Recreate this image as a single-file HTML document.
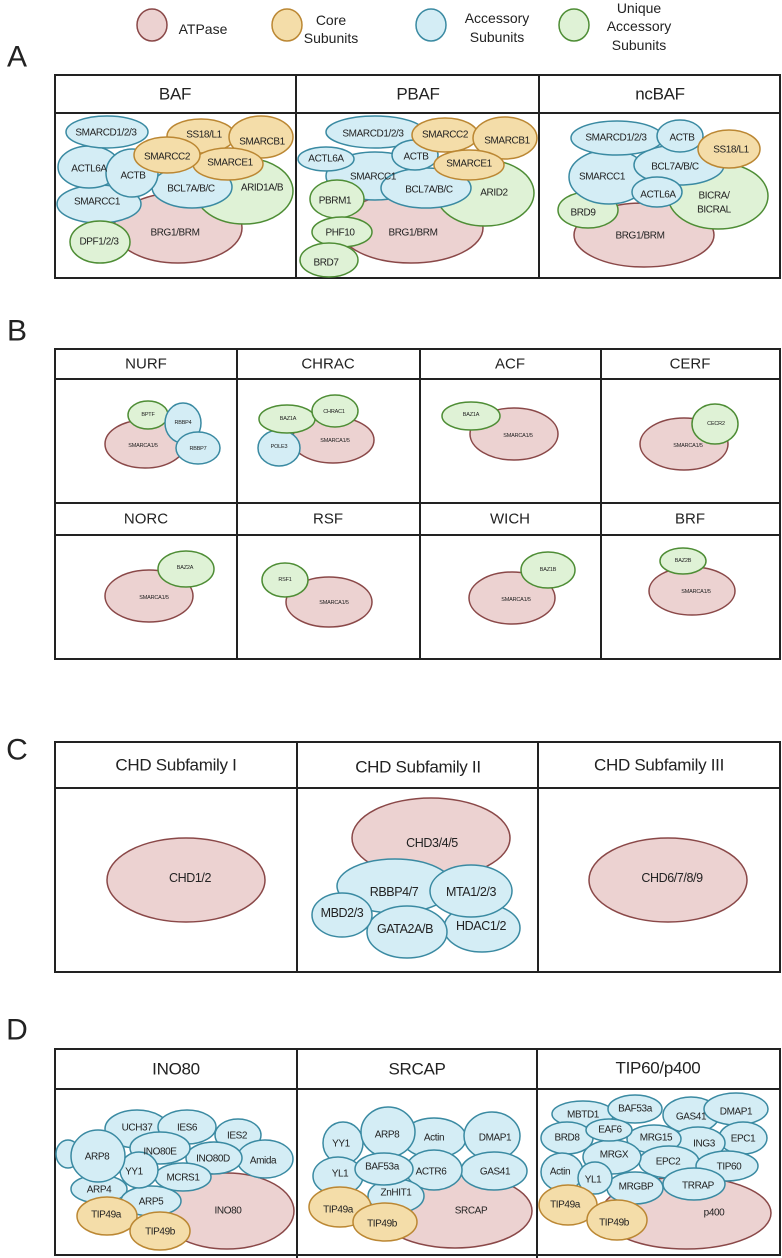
<!DOCTYPE html>
<html><head><meta charset="utf-8"><style>
html,body{margin:0;padding:0;background:#fff}
svg{display:block}
text{font-family:"Liberation Sans Narrow","Liberation Sans",sans-serif;fill:#222;text-anchor:middle;dominant-baseline:central}
.p{fill:#ecd2d1;stroke:#8a4848;stroke-width:1.5}
.o{fill:#f4dda9;stroke:#bb8733;stroke-width:1.5}
.b{fill:#d4edf5;stroke:#3a8aa2;stroke-width:1.5}
.g{fill:#dff2d6;stroke:#4e8d35;stroke-width:1.5}
.t{fill:#fff;stroke:#222;stroke-width:2}
.l{stroke:#222;stroke-width:2}
.h{font-size:17px;letter-spacing:-0.3px}
.a{font-size:10px;letter-spacing:-0.4px}
.s{font-size:5.5px;letter-spacing:-0.2px}
.c{font-size:12.5px;letter-spacing:-0.4px}
.L{font-size:30px;font-family:"Liberation Sans",sans-serif}
</style></head><body>
<svg width="782" height="1258" viewBox="0 0 782 1258" xmlns="http://www.w3.org/2000/svg">
<!-- legend -->
<ellipse class="p" cx="152" cy="25" rx="15" ry="16"/><text x="203" y="29" style="font-size:14px">ATPase</text>
<ellipse class="o" cx="287" cy="25" rx="15" ry="16"/><text x="331" y="20" style="font-size:14px">Core</text><text x="331" y="38" style="font-size:14px">Subunits</text>
<ellipse class="b" cx="431" cy="25" rx="15" ry="16"/><text x="497" y="18" style="font-size:14px">Accessory</text><text x="497" y="37" style="font-size:14px">Subunits</text>
<ellipse class="g" cx="574" cy="25" rx="15" ry="16"/><text x="639" y="8" style="font-size:14px">Unique</text><text x="639" y="26" style="font-size:14px">Accessory</text><text x="639" y="45" style="font-size:14px">Subunits</text>

<!-- Panel A -->
<text class="L" x="17" y="57">A</text>
<rect class="t" x="55" y="75" width="725" height="203"/>
<line class="l" x1="55" y1="113" x2="780" y2="113"/>
<line class="l" x1="296" y1="75" x2="296" y2="278"/>
<line class="l" x1="539" y1="75" x2="539" y2="278"/>
<text class="h" x="175" y="94">BAF</text><text class="h" x="418" y="94">PBAF</text><text class="h" x="660" y="94">ncBAF</text>
<!-- BAF -->
<ellipse class="p" cx="178" cy="228" rx="64" ry="35"/>
<ellipse class="g" cx="244" cy="191" rx="49" ry="33"/>
<ellipse class="b" cx="99" cy="204" rx="42" ry="19"/>
<ellipse class="g" cx="100" cy="242" rx="30" ry="21"/>
<ellipse class="b" cx="192" cy="187" rx="40" ry="21"/>
<ellipse class="b" cx="89" cy="167" rx="31" ry="21"/>
<ellipse class="b" cx="132" cy="173" rx="26" ry="24"/>
<ellipse class="b" cx="107" cy="132" rx="41" ry="16"/>
<ellipse class="o" cx="201" cy="136" rx="34" ry="17"/>
<ellipse class="o" cx="261" cy="137" rx="32" ry="21"/>
<ellipse class="o" cx="228" cy="164" rx="35" ry="16"/>
<ellipse class="o" cx="167" cy="155" rx="33" ry="18"/>
<text class="a" x="106" y="133">SMARCD1/2/3</text><text class="a" x="204" y="135">SS18/L1</text><text class="a" x="262" y="142">SMARCB1</text>
<text class="a" x="167" y="157">SMARCC2</text><text class="a" x="230" y="163">SMARCE1</text><text class="a" x="262" y="188">ARID1A/B</text>
<text class="a" x="89" y="169">ACTL6A</text><text class="a" x="133" y="176">ACTB</text><text class="a" x="191" y="189">BCL7A/B/C</text>
<text class="a" x="97" y="202">SMARCC1</text><text class="a" x="175" y="233">BRG1/BRM</text><text class="a" x="99" y="242">DPF1/2/3</text>
<!-- PBAF -->
<ellipse class="p" cx="411" cy="228" rx="72" ry="35"/>
<ellipse class="g" cx="485" cy="193" rx="49" ry="33"/>
<ellipse class="b" cx="375" cy="176" rx="49" ry="24"/>
<ellipse class="b" cx="426" cy="188" rx="45" ry="20"/>
<ellipse class="b" cx="326" cy="159" rx="28" ry="12"/>
<ellipse class="b" cx="375" cy="132" rx="49" ry="16"/>
<ellipse class="b" cx="415" cy="155" rx="23" ry="15"/>
<ellipse class="o" cx="445" cy="135" rx="33" ry="17"/>
<ellipse class="o" cx="505" cy="138" rx="32" ry="21"/>
<ellipse class="o" cx="469" cy="165" rx="35" ry="15"/>
<ellipse class="g" cx="337" cy="199" rx="27" ry="19"/>
<ellipse class="g" cx="342" cy="232" rx="30" ry="15"/>
<ellipse class="g" cx="329" cy="260" rx="29" ry="17"/>
<text class="a" x="373" y="134">SMARCD1/2/3</text><text class="a" x="445" y="135">SMARCC2</text><text class="a" x="507" y="141">SMARCB1</text>
<text class="a" x="326" y="159">ACTL6A</text><text class="a" x="416" y="157">ACTB</text><text class="a" x="469" y="164">SMARCE1</text>
<text class="a" x="373" y="177">SMARCC1</text><text class="a" x="429" y="190">BCL7A/B/C</text><text class="a" x="494" y="193">ARID2</text>
<text class="a" x="335" y="201">PBRM1</text><text class="a" x="340" y="233">PHF10</text><text class="a" x="326" y="263">BRD7</text><text class="a" x="413" y="233">BRG1/BRM</text>
<!-- ncBAF -->
<ellipse class="p" cx="644" cy="235" rx="70" ry="32"/>
<ellipse class="g" cx="718" cy="196" rx="50" ry="33"/>
<ellipse class="g" cx="588" cy="210" rx="30" ry="18"/>
<ellipse class="b" cx="609" cy="177" rx="40" ry="27"/>
<ellipse class="b" cx="679" cy="165" rx="45" ry="20"/>
<ellipse class="b" cx="617" cy="138" rx="46" ry="17"/>
<ellipse class="b" cx="680" cy="136" rx="23" ry="16"/>
<ellipse class="o" cx="729" cy="149" rx="31" ry="19"/>
<ellipse class="b" cx="657" cy="192" rx="25" ry="15"/>
<text class="a" x="616" y="138">SMARCD1/2/3</text><text class="a" x="682" y="138">ACTB</text><text class="a" x="731" y="150">SS18/L1</text>
<text class="a" x="675" y="167">BCL7A/B/C</text><text class="a" x="602" y="177">SMARCC1</text><text class="a" x="714" y="196">BICRA/</text><text class="a" x="714" y="210">BICRAL</text>
<text class="a" x="658" y="195">ACTL6A</text><text class="a" x="583" y="213">BRD9</text><text class="a" x="640" y="236">BRG1/BRM</text>

<!-- Panel B -->
<text class="L" x="17" y="331">B</text>
<rect class="t" x="55" y="349" width="725" height="310"/>
<line class="l" x1="55" y1="379" x2="780" y2="379"/>
<line class="l" x1="55" y1="503" x2="780" y2="503"/>
<line class="l" x1="55" y1="535" x2="780" y2="535"/>
<line class="l" x1="237" y1="349" x2="237" y2="659"/>
<line class="l" x1="420" y1="349" x2="420" y2="659"/>
<line class="l" x1="601" y1="349" x2="601" y2="659"/>
<g><text x="146" y="364" style="font-size:15px">NURF</text><text x="328" y="364" style="font-size:15px">CHRAC</text><text x="510" y="364" style="font-size:15px">ACF</text><text x="690" y="364" style="font-size:15px">CERF</text>
<text x="146" y="519" style="font-size:15px">NORC</text><text x="328" y="519" style="font-size:15px">RSF</text><text x="510" y="519" style="font-size:15px">WICH</text><text x="690" y="519" style="font-size:15px">BRF</text></g>
<ellipse class="p" cx="145" cy="444" rx="40" ry="24"/>
<ellipse class="g" cx="148" cy="415" rx="20" ry="14"/>
<ellipse class="b" cx="183" cy="423" rx="18" ry="20"/>
<ellipse class="b" cx="198" cy="448" rx="22" ry="16"/>
<text class="s" x="143" y="446">SMARCA1/5</text><text class="s" x="148" y="415">BPTF</text><text class="s" x="183" y="423">RBBP4</text><text class="s" x="198" y="449">RBBP7</text>
<ellipse class="p" cx="333" cy="440" rx="41" ry="23"/>
<ellipse class="b" cx="279" cy="448" rx="21" ry="18"/>
<ellipse class="g" cx="287" cy="419" rx="28" ry="14"/>
<ellipse class="g" cx="335" cy="411" rx="23" ry="16"/>
<text class="s" x="335" y="441">SMARCA1/5</text><text class="s" x="279" y="447">POLE3</text><text class="s" x="288" y="419">BAZ1A</text><text class="s" x="334" y="412">CHRAC1</text>
<ellipse class="p" cx="514" cy="434" rx="44" ry="26"/>
<ellipse class="g" cx="471" cy="416" rx="29" ry="14"/>
<text class="s" x="518" y="436">SMARCA1/5</text><text class="s" x="471" y="415">BAZ1A</text>
<ellipse class="p" cx="684" cy="444" rx="44" ry="26"/>
<ellipse class="g" cx="715" cy="424" rx="23" ry="20"/>
<text class="s" x="688" y="446">SMARCA1/5</text><text class="s" x="716" y="424">CECR2</text>
<ellipse class="p" cx="149" cy="596" rx="44" ry="26"/>
<ellipse class="g" cx="186" cy="569" rx="28" ry="18"/>
<text class="s" x="154" y="598">SMARCA1/5</text><text class="s" x="185" y="568">BAZ2A</text>
<ellipse class="p" cx="329" cy="602" rx="43" ry="25"/>
<ellipse class="g" cx="285" cy="580" rx="23" ry="17"/>
<text class="s" x="334" y="603">SMARCA1/5</text><text class="s" x="285" y="580">RSF1</text>
<ellipse class="p" cx="512" cy="598" rx="43" ry="26"/>
<ellipse class="g" cx="548" cy="570" rx="27" ry="18"/>
<text class="s" x="516" y="600">SMARCA1/5</text><text class="s" x="548" y="570">BAZ1B</text>
<ellipse class="p" cx="692" cy="591" rx="43" ry="24"/>
<ellipse class="g" cx="683" cy="561" rx="23" ry="13"/>
<text class="s" x="696" y="592">SMARCA1/5</text><text class="s" x="683" y="561">BAZ2B</text>

<!-- Panel C -->
<text class="L" x="17" y="750">C</text>
<rect class="t" x="55" y="742" width="725" height="230"/>
<line class="l" x1="55" y1="788" x2="780" y2="788"/>
<line class="l" x1="297" y1="742" x2="297" y2="972"/>
<line class="l" x1="538" y1="742" x2="538" y2="972"/>
<text class="h" x="176" y="765">CHD Subfamily I</text><text class="h" x="418" y="767">CHD Subfamily II</text><text class="h" x="659" y="765">CHD Subfamily III</text>
<ellipse class="p" cx="186" cy="880" rx="79" ry="42"/>
<text class="c" x="190" y="878">CHD1/2</text>
<ellipse class="p" cx="431" cy="838" rx="79" ry="40"/>
<ellipse class="b" cx="395" cy="886" rx="58" ry="27"/>
<ellipse class="b" cx="482" cy="928" rx="38" ry="24"/>
<ellipse class="b" cx="407" cy="932" rx="40" ry="26"/>
<ellipse class="b" cx="342" cy="915" rx="30" ry="22"/>
<ellipse class="b" cx="471" cy="891" rx="41" ry="26"/>
<text class="c" x="432" y="843">CHD3/4/5</text><text class="c" x="394" y="892">RBBP4/7</text><text class="c" x="471" y="892">MTA1/2/3</text>
<text class="c" x="342" y="913">MBD2/3</text><text class="c" x="405" y="929">GATA2A/B</text><text class="c" x="481" y="926">HDAC1/2</text>
<ellipse class="p" cx="668" cy="880" rx="79" ry="42"/>
<text class="c" x="672" y="878">CHD6/7/8/9</text>

<!-- Panel D -->
<text class="L" x="17" y="1030">D</text>
<rect class="t" x="55" y="1049" width="725" height="206"/>
<line class="l" x1="55" y1="1089" x2="780" y2="1089"/>
<line class="l" x1="297" y1="1049" x2="297" y2="1258"/>
<line class="l" x1="537" y1="1049" x2="537" y2="1258"/>
<text class="h" x="176" y="1069">INO80</text><text class="h" x="417" y="1069">SRCAP</text><text class="h" x="658" y="1068">TIP60/p400</text>
<!-- INO80 -->
<ellipse class="p" cx="227" cy="1211" rx="67" ry="38"/>
<ellipse class="b" cx="68" cy="1154" rx="12" ry="14"/>
<ellipse class="b" cx="137" cy="1129" rx="32" ry="19"/>
<ellipse class="b" cx="238" cy="1135" rx="23" ry="16"/>
<ellipse class="b" cx="187" cy="1127" rx="29" ry="17"/>
<ellipse class="b" cx="265" cy="1159" rx="28" ry="19"/>
<ellipse class="b" cx="214" cy="1158" rx="28" ry="16"/>
<ellipse class="b" cx="160" cy="1148" rx="30" ry="16"/>
<ellipse class="b" cx="99" cy="1189" rx="28" ry="14"/>
<ellipse class="b" cx="151" cy="1201" rx="30" ry="15"/>
<ellipse class="b" cx="183" cy="1177" rx="28" ry="14"/>
<ellipse class="b" cx="139" cy="1170" rx="19" ry="18"/>
<ellipse class="b" cx="98" cy="1156" rx="27" ry="26"/>
<ellipse class="o" cx="107" cy="1216" rx="30" ry="19"/>
<ellipse class="o" cx="160" cy="1231" rx="30" ry="19"/>
<text class="a" x="137" y="1128">UCH37</text><text class="a" x="187" y="1128">IES6</text><text class="a" x="237" y="1136">IES2</text>
<text class="a" x="97" y="1157">ARP8</text><text class="a" x="160" y="1152">INO80E</text><text class="a" x="213" y="1159">INO80D</text><text class="a" x="263" y="1161">Amida</text>
<text class="a" x="134" y="1172">YY1</text><text class="a" x="183" y="1178">MCRS1</text><text class="a" x="99" y="1190">ARP4</text><text class="a" x="151" y="1202">ARP5</text>
<text class="a" x="106" y="1215">TIP49a</text><text class="a" x="160" y="1232">TIP49b</text><text class="a" x="228" y="1211">INO80</text>
<!-- SRCAP -->
<ellipse class="p" cx="455" cy="1211" rx="77" ry="37"/>
<ellipse class="b" cx="434" cy="1138" rx="32" ry="20"/>
<ellipse class="b" cx="492" cy="1136" rx="28" ry="24"/>
<ellipse class="b" cx="343" cy="1143" rx="20" ry="21"/>
<ellipse class="b" cx="388" cy="1132" rx="27" ry="25"/>
<ellipse class="b" cx="494" cy="1171" rx="33" ry="19"/>
<ellipse class="b" cx="434" cy="1170" rx="28" ry="20"/>
<ellipse class="b" cx="338" cy="1176" rx="25" ry="19"/>
<ellipse class="b" cx="396" cy="1196" rx="28" ry="17"/>
<ellipse class="b" cx="384" cy="1169" rx="29" ry="16"/>
<ellipse class="o" cx="340" cy="1207" rx="31" ry="20"/>
<ellipse class="o" cx="385" cy="1222" rx="32" ry="19"/>
<text class="a" x="341" y="1144">YY1</text><text class="a" x="387" y="1135">ARP8</text><text class="a" x="434" y="1138">Actin</text><text class="a" x="495" y="1138">DMAP1</text>
<text class="a" x="340" y="1174">YL1</text><text class="a" x="382" y="1167">BAF53a</text><text class="a" x="431" y="1172">ACTR6</text><text class="a" x="495" y="1172">GAS41</text>
<text class="a" x="396" y="1193">ZnHIT1</text><text class="a" x="338" y="1210">TIP49a</text><text class="a" x="382" y="1224">TIP49b</text><text class="a" x="471" y="1211">SRCAP</text>
<!-- TIP60/p400 -->
<ellipse class="p" cx="686" cy="1213" rx="85" ry="36"/>
<ellipse class="b" cx="583" cy="1114" rx="31" ry="13"/>
<ellipse class="b" cx="635" cy="1109" rx="27" ry="14"/>
<ellipse class="b" cx="691" cy="1115" rx="28" ry="18"/>
<ellipse class="b" cx="736" cy="1109" rx="32" ry="16"/>
<ellipse class="b" cx="567" cy="1138" rx="26" ry="16"/>
<ellipse class="b" cx="743" cy="1138" rx="24" ry="16"/>
<ellipse class="b" cx="698" cy="1143" rx="27" ry="16"/>
<ellipse class="b" cx="654" cy="1139" rx="27" ry="14"/>
<ellipse class="b" cx="669" cy="1162" rx="30" ry="16"/>
<ellipse class="b" cx="727" cy="1166" rx="31" ry="15"/>
<ellipse class="b" cx="612" cy="1157" rx="29" ry="17"/>
<ellipse class="b" cx="609" cy="1130" rx="23" ry="11"/>
<ellipse class="b" cx="635" cy="1188" rx="28" ry="16"/>
<ellipse class="b" cx="694" cy="1184" rx="31" ry="16"/>
<ellipse class="b" cx="562" cy="1172" rx="21" ry="19"/>
<ellipse class="b" cx="595" cy="1178" rx="17" ry="16"/>
<ellipse class="o" cx="568" cy="1205" rx="29" ry="20"/>
<ellipse class="o" cx="617" cy="1220" rx="30" ry="20"/>
<text class="a" x="583" y="1115">MBTD1</text><text class="a" x="635" y="1109">BAF53a</text><text class="a" x="691" y="1117">GAS41</text><text class="a" x="736" y="1112">DMAP1</text>
<text class="a" x="567" y="1138">BRD8</text><text class="a" x="610" y="1130">EAF6</text><text class="a" x="656" y="1138">MRG15</text><text class="a" x="704" y="1144">ING3</text><text class="a" x="743" y="1139">EPC1</text>
<text class="a" x="614" y="1155">MRGX</text><text class="a" x="668" y="1162">EPC2</text><text class="a" x="729" y="1167">TIP60</text>
<text class="a" x="560" y="1172">Actin</text><text class="a" x="593" y="1180">YL1</text><text class="a" x="636" y="1187">MRGBP</text><text class="a" x="698" y="1186">TRRAP</text>
<text class="a" x="565" y="1205">TIP49a</text><text class="a" x="614" y="1223">TIP49b</text><text class="a" x="714" y="1213">p400</text>
</svg>
</body></html>
